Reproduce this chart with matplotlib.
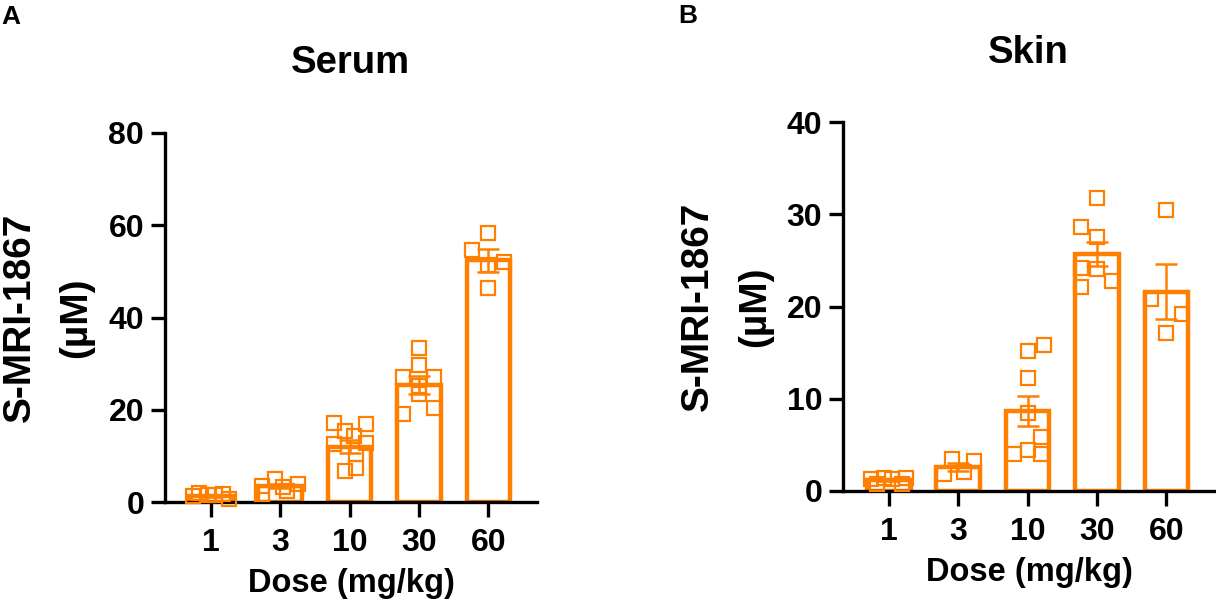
import matplotlib
matplotlib.use('Agg')
import matplotlib.pyplot as plt

plt.rcParams['font.family'] = ['Liberation Sans', 'DejaVu Sans']
plt.rcParams['font.weight'] = 'bold'
plt.rcParams['axes.labelweight'] = 'bold'

ORANGE = '#FF8000'

doses = ['1', '3', '10', '30', '60']

# Serum
serum_mean = [1.2, 3.4, 12.0, 25.4, 52.4]
serum_sem = [0.2, 0.4, 1.4, 1.9, 2.5]
serum_points = [
    [1.3, 2.0, 1.5, 1.5, 1.7, 0.7],
    [3.5, 5.0, 3.3, 3.9, 1.8, 2.4],
    [17.2, 15.4, 17.0, 14.3, 12.6, 12.8, 6.7, 7.4, 10.4],
    [33.3, 29.6, 27.0, 27.0, 25.2, 23.5, 19.1, 20.4],
    [58.3, 54.6, 52.0, 51.3, 46.3],
]
serum_jitter = [
    [-0.26, -0.17, -0.04, 0.06, 0.17, 0.26],
    [-0.26, -0.07, 0.04, 0.26, -0.26, 0.10],
    [-0.23, -0.07, 0.23, 0.07, -0.23, 0.23, -0.07, 0.09, 0.09],
    [0.0, 0.0, -0.23, 0.22, 0.0, 0.0, -0.23, 0.22],
    [0.0, -0.23, 0.22, 0.0, 0.0],
]

# Skin
skin_mean = [1.2, 2.6, 8.7, 25.7, 21.6]
skin_sem = [0.15, 0.4, 1.65, 1.3, 3.0]
skin_points = [
    [1.3, 1.45, 1.35, 1.45, 0.75, 0.75],
    [3.5, 3.3, 1.8, 2.1],
    [15.2, 15.8, 12.2, 8.5, 5.8, 4.0, 4.4, 4.0],
    [31.8, 28.6, 27.5, 24.2, 24.1, 22.8, 22.1],
    [30.5, 20.8, 19.2, 17.1],
]
skin_jitter = [
    [-0.25, -0.07, 0.04, 0.25, -0.17, 0.19],
    [-0.09, 0.23, -0.2, 0.09],
    [0.0, 0.23, 0.0, 0.0, 0.2, -0.2, 0.0, 0.2],
    [0.0, -0.23, 0.0, -0.23, 0.0, 0.22, -0.23],
    [0.0, -0.22, 0.22, 0.0],
]


def draw_panel(ax, means, sems, points, jitter, ymax, step):
    x = range(len(doses))
    ax.bar(x, means, width=0.63, facecolor='white', edgecolor=ORANGE,
           linewidth=3.2, zorder=2)
    ax.errorbar(x, means, yerr=sems, fmt='none', ecolor=ORANGE,
                elinewidth=1.8, capsize=8, capthick=1.8, zorder=3)
    for i, (vals, offs) in enumerate(zip(points, jitter)):
        ax.plot([i + o for o in offs], vals, 's', markersize=10,
                markerfacecolor='none', markeredgecolor=ORANGE,
                markeredgewidth=1.6, zorder=4, clip_on=False)

    ax.set_xlim(-0.66, 4.7)
    ax.set_ylim(0, ymax)
    ax.set_yticks(range(0, ymax + 1, step))
    ax.set_xticks(list(x))
    ax.set_xticklabels(doses)
    for s in ['top', 'right']:
        ax.spines[s].set_visible(False)
    for s in ['left', 'bottom']:
        ax.spines[s].set_linewidth(2.4)
    ax.tick_params(width=2.4, length=10, labelsize=23, pad=5)
    ax.tick_params(axis='x', length=11, pad=8)
    ax.set_ylabel('S-MRI-1867\n(µM)', fontsize=28, linespacing=1.75,
                  labelpad=10)
    ax.set_xlabel('Dose (mg/kg)', fontsize=23.5, labelpad=7)


fig = plt.figure(figsize=(12.16, 6.0), dpi=100)
ax1 = fig.add_axes([165 / 1216, 98 / 600, 372 / 1216, 369 / 600])
ax2 = fig.add_axes([843 / 1216, 109 / 600, 372 / 1216, 369 / 600])

draw_panel(ax1, serum_mean, serum_sem, serum_points, serum_jitter, 80, 20)
draw_panel(ax2, skin_mean, skin_sem, skin_points, skin_jitter, 40, 10)

fig.text(350 / 1216, 1 - 63 / 600, 'Serum', fontsize=27.5, ha='center', va='center')
fig.text(1028 / 1216, 1 - 53 / 600, 'Skin', fontsize=27.5, ha='center', va='center')
fig.text(1 / 1216, 1 - 17 / 600, 'A', fontsize=19, ha='left', va='center')
fig.text(678 / 1216, 1 - 16 / 600, 'B', fontsize=19, ha='left', va='center')

fig.savefig('out.png', dpi=100)
